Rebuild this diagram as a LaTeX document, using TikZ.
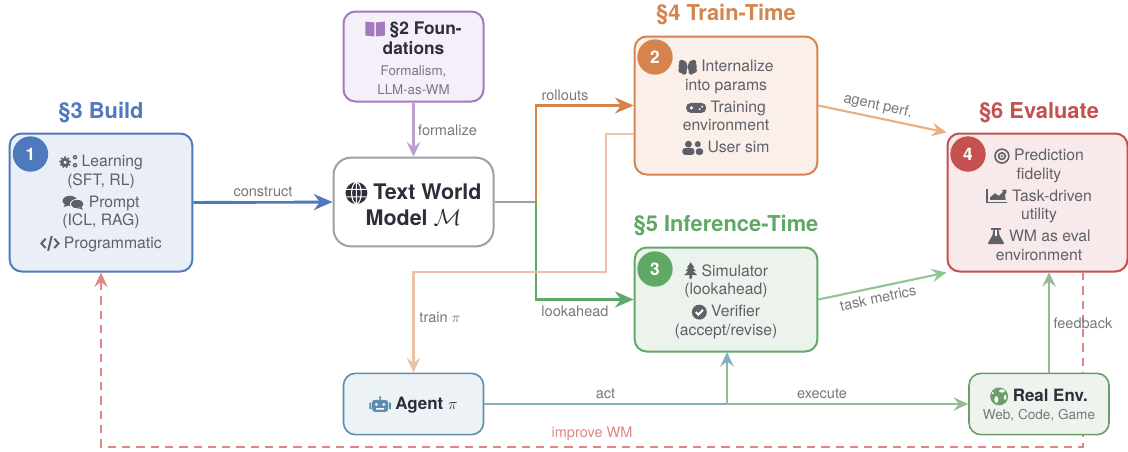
\documentclass[tikz,border=0pt]{standalone}
\usepackage{amsmath}
\usepackage{fontspec}
\setmainfont{TeX Gyre Heros}
\usetikzlibrary{arrows.meta,positioning}
\definecolor{buildc}{HTML}{4E79BC}
\definecolor{buildf}{HTML}{E9EEF7}
\definecolor{trainc}{HTML}{D4844C}
\definecolor{trainf}{HTML}{FAEFE9}
\definecolor{trainl}{HTML}{E8AE80}
\definecolor{trainp}{HTML}{EBC1A8}
\definecolor{inferc}{HTML}{5FA865}
\definecolor{inferf}{HTML}{ECF3EC}
\definecolor{inferl}{HTML}{8FC794}
\definecolor{evalc}{HTML}{C45050}
\definecolor{evalf}{HTML}{F8EAEA}
\definecolor{evall}{HTML}{DE8785}
\definecolor{foundc}{HTML}{A678BE}
\definecolor{foundf}{HTML}{F4EFF8}
\definecolor{foundl}{HTML}{BD9FD0}
\definecolor{agentc}{HTML}{5B8FAD}
\definecolor{agentf}{HTML}{ECF2F5}
\definecolor{agentl}{HTML}{85AFC3}
\definecolor{realc}{HTML}{6B9E6B}
\definecolor{realf}{HTML}{EEF3EE}
\definecolor{reall}{HTML}{93BC96}
\definecolor{modelc}{HTML}{9E9EA3}
\definecolor{bodyc}{HTML}{5F6068}
\definecolor{darkc}{HTML}{2E2E3A}
\definecolor{labelc}{HTML}{77777D}
\tikzset{
	box/.style={draw, rounded corners=9pt, line width=1.5pt, align=center, inner sep=0pt, text=bodyc,
		font=\fontsize{11.8}{13.7}\selectfont},
	boxtext/.style={box, draw=none, fill=none},
	badge/.style={circle, inner sep=0pt, minimum size=26.5pt, text=white, font=\fontsize{13}{13}\selectfont\bfseries},
	title/.style={font=\fontsize{16.4}{18}\selectfont\bfseries},
	tag/.style={font=\fontsize{10.9}{12}\selectfont, text=labelc, inner sep=0pt},
	link/.style={line width=2.2pt, -{Stealth[length=14pt, width=12pt, inset=4.5pt]}},
	thin link/.style={line width=1.6pt, -{Stealth[length=11pt, width=10pt, inset=4pt]}},
	plain link/.style={line width=1.7pt},
	icon/.style={x=1pt, y=1pt, baseline=1pt, sharp corners, line width=1.2pt},
	ic/.style={fill=., draw=none},
	ir/.style={draw=., fill=none},
	ig/.style={fill=white, draw=none}
}
\newcommand{\ico}[1]{\smash{\tikz[icon]{#1}}}
\newcommand{\icogears}{\ico{\path[ic] (4.5,4.5) circle (3.4) (12,8.3) circle (1.7) (12,2.3) circle (1.7);
	\draw[ir, dash pattern=on 1.3pt off 1.35pt] (4.5,4.5) circle (3.9);
	\path[ig] (4.5,4.5) circle (1.3) (12,8.3) circle (.6) (12,2.3) circle (.6);}}
\newcommand{\icobubbles}{\ico{\path[ic] (5.5,6) ellipse (5.5 and 3.8) (2,3.5) -- (.8,1.4) -- (5,2.6) -- cycle;
	\draw[white, line width=.8pt] (11,3.6) ellipse (5 and 3.4);
	\path[ic] (11,3.6) ellipse (4.8 and 3.2) (14,1.4) -- (15.4,-.6) -- (11,.6) -- cycle;}}
\newcommand{\icocode}{\ico{\draw[ir, line width=1.5pt] (4,8) -- (.8,4.5) -- (4,1) (10.5,8) -- (13.7,4.5) -- (10.5,1);
	\draw[ir, line width=1.5pt] (8.6,10) -- (5.9,-1);}}
\newcommand{\icobrain}{\ico{\path[ic] (3.2,4.6) ellipse (3.3 and 5) (2.2,8) circle (2) (1.6,2) circle (1.9) (4,.8) circle (2) (10.2,4.6) ellipse (3.3 and 5) (11.2,8) circle (2) (11.8,2) circle (1.9) (9.4,.8) circle (2);}}
\newcommand{\icopad}{\ico{\path[ic, rounded corners=3.4pt] (0,.6) rectangle (15,8);
	\path[ig] (4,4.3) circle (1.3) (10.2,3.4) circle (.8) (12,5.2) circle (.8);}}
\newcommand{\icousers}{\ico{\path[ic] (4.5,7.5) circle (2.6) (11.5,7.5) circle (2.3);
	\path[ic, rounded corners=2pt] (0,-.5) rectangle (9,4.6) (10,-.5) rectangle (15.5,4.3);}}
\newcommand{\icotree}{\ico{\path[ic] (5,11.5) -- (2.2,7.5) -- (7.8,7.5) -- cycle (5,9) -- (1,4.8) -- (9,4.8) -- cycle
	(5,6.5) -- (0,1.8) -- (10,1.8) -- cycle (4,-.8) rectangle (6,2);}}
\newcommand{\icocheck}{\ico{\path[ic] (5.5,4.5) circle (5.6);
	\draw[white, line width=1.5pt] (2.9,4.6) -- (4.8,2.6) -- (8.2,6.2);}}
\newcommand{\icotarget}{\ico{\draw[ir] (5.5,4.5) circle (5.2) (5.5,4.5) circle (2.5);
	\path[ic] (5.5,4.5) circle (.9);}}
\newcommand{\icochart}{\ico{\draw[ir] (0,10) -- (0,.1) -- (15,.1);
	\path[ic] (2.4,2) -- (2.4,4) -- (6,7) -- (9,5) -- (12.2,8.4) -- (11,9.4) -- (14.6,9.8) -- (14.6,6.2) -- (13.4,7.2) -- (14,2) -- cycle;}}
\newcommand{\icoflask}{\ico{\path[ic, rounded corners=1pt] (4.2,10) -- (4.2,6.5) -- (0,-.8) -- (13,-.8) -- (8.8,6.5) -- (8.8,10) -- cycle;
	\draw[ir] (2.8,10.6) -- (10.2,10.6);
	\path[ig] (5.5,10) rectangle (7.5,5.5);}}
\newcommand{\icobook}{\ico{\path[ic] (0,0) -- (0,10.5) -- (6.8,9.8) -- (6.8,-.7) -- cycle (7.9,-.7) -- (7.9,9.8) -- (14.7,10.5) -- (14.7,0) -- cycle;}}
\newcommand{\icoglobe}{\ico{\path[ic] (8,6) circle (8.2);
	\draw[white, line width=.8pt] (8,6) ellipse (3.6 and 8) (.3,3.2) -- (15.7,3.2) (.3,8.8) -- (15.7,8.8) (8,-2) -- (8,14);}}
\newcommand{\icoearth}{\ico{\path[ic] (6.5,4.5) circle (6.7);
	\path[ig] (8.6,8.6) ellipse (2.2 and 1.2) (11,3.8) ellipse (1 and 1.8) (4.4,2.2) ellipse (1.5 and 2.5) (1.8,7) circle (.9);}}
\newcommand{\icorobot}{\ico{\path[ic, rounded corners=2pt] (2,-.5) rectangle (14,8.5);
	\path[ic] (0,1.5) rectangle (1.4,6.5) (14.6,1.5) rectangle (16,6.5) (7.5,8) rectangle (8.5,10) (8,10.4) circle (1);
	\path[ig] (5.2,5) circle (1.2) (10.8,5) circle (1.2) (5,1.2) rectangle (11,2.2);}}
\begin{document}
\begin{tikzpicture}[x=0.75pt, y=-0.75pt]
	\useasboundingbox (0,0) rectangle (1128,451);
	\begin{scope}
		\node[box, draw=buildc, fill=buildf, minimum width=137pt, minimum height=103.5pt] (build) at (101,202.5) {};
		\node[box, draw=foundc, fill=foundf, minimum width=105pt, minimum height=67.5pt] (found) at (413.5,56.5) {};
		\node[box, draw=modelc, fill=white, minimum width=120pt, minimum height=66.5pt, rounded corners=13pt] (model) at (413.5,202) {};
		\node[box, draw=trainc, fill=trainf, minimum width=137pt, minimum height=103.5pt] (train) at (726,105.5) {};
		\node[box, draw=inferc, fill=inferf, minimum width=137pt, minimum height=78pt] (infer) at (726,299.5) {};
		\node[box, draw=evalc, fill=evalf, minimum width=135pt, minimum height=103.5pt] (eval) at (1037.5,202.5) {};
		\node[box, draw=agentc, fill=agentf, minimum width=105pt, minimum height=46pt, line width=1.2pt] (agent) at (413.5,404) {};
	\end{scope}
	\coordinate (split) at (536,202);
	\coordinate (trainout) at (634,134);
	\coordinate (trainbend) at (606,134);
	\coordinate (trainlow) at (606,272);
	\coordinate (agentin) at (413.5,272);
	\coordinate (fork) at (727,404);
	\coordinate (inferin) at (727,352);
	\coordinate (feedin) at (1049,272);
	\coordinate (feedout) at (1049,373);
	\coordinate (loopa) at (1083,272);
	\coordinate (loopb) at (1083,446.5);
	\coordinate (loopc) at (101,446.5);
	\draw[thin link, evall, line width=1.5pt, dash pattern=on 6.2pt off 4.5pt] (loopa) -- (loopb) -- (loopc) -- (build.south);
	\node[box, draw=realc, fill=realf, minimum width=105pt, minimum height=46pt, line width=1.2pt] (real) at (1039,404) {};
	\draw[link, buildc] (build.east) -- (model.west);
	\draw[thin link, foundl] (found.south) -- (model.north);
	\draw[line width=2.2pt, modelc] (model.east) -- (split);
	\draw[link, trainc] (split) |- (train.west);
	\draw[link, inferc] (split) |- (infer.west);
	\draw[thin link, trainp] (trainout) -- (trainbend) -- (trainlow) -- (agentin) -- (agent.north);
	\draw[thin link, trainl] (train.east) -- (eval.north west);
	\draw[thin link, inferl] (infer.east) -- (eval.south west);
	\draw[thin link, agentl] (agent.east) -- (fork) -- (inferin);
	\draw[plain link, reall, shorten >=9pt] (fork) -- (inferin);
	\draw[thin link, reall] (fork) -- (real.west);
	\draw[thin link, reall, line width=1.8pt] (feedout) -- (feedin);
	\begin{scope}[every node/.style={badge}]
		\node[fill=buildc] (one) at (30.5,154) {1};
		\node[fill=trainc] (two) at (655,57) {2};
		\node[fill=inferc] (three) at (655,269) {3};
		\node[fill=evalc] (four) at (968,154) {4};
	\end{scope}
	\node[title, text=buildc] (tbuild) at (101,113) {§3 Build};
	\node[title, text=trainc] (ttrain) at (726,14.5) {§4 Train-Time};
	\node[title, text=inferc] (tinfer) at (726,226) {§5 Inference-Time};
	\node[title, text=evalc] (teval) at (1039,113) {§6 Evaluate};
	\node[boxtext] (buildtxt) at (101,203.5) {\icogears\ Learning\\(SFT, RL)\\[3pt]\icobubbles\ Prompt\\(ICL, RAG)\\[3pt]\icocode\ Programmatic};
	\node[boxtext] (traintxt) at (726,106.7) {\icobrain\ Internalize\\into params\\[3pt]\icopad\ Training\\environment\\[3pt]\icousers\ User sim};
	\node[boxtext] (infertxt) at (726,301.5) {\icotree\ Simulator\\(lookahead)\\[3pt]\icocheck\ Verifier\\(accept/revise)};
	\node[boxtext] (evaltxt) at (1039,204.8) {\icotarget\ Prediction\\fidelity\\[3pt]\icochart\ Task-driven\\utility\\[3pt]\icoflask\ WM as eval\\environment};
	\node[boxtext, text=darkc, font=\fontsize{13}{15}\selectfont\bfseries] (foundtxt) at (413.5,38) {{\color{foundc}\icobook}\ §2 Foun-\\dations};
	\node[boxtext, text=labelc, font=\fontsize{10}{14}\selectfont] (foundsub) at (413.5,80) {Formalism,\\LLM-as-WM};
	\node[boxtext, text=darkc, font=\fontsize{16.1}{19.5}\selectfont\bfseries] (modeltxt) at (413.5,205) {\icoglobe\ Text World\\Model $\mathcal{M}$};
	\node[boxtext, text=darkc, font=\fontsize{12.7}{14}\selectfont\bfseries] (agenttxt) at (413.5,405.5) {{\color{agentc}\icorobot}\ Agent\ $\pi$};
	\node[boxtext, text=darkc, font=\fontsize{12.7}{14}\selectfont\bfseries] (realtxt) at (1039,395) {{\color{realc}\icoearth}\ Real Env.};
	\node[boxtext, text=labelc, font=\fontsize{10.2}{12}\selectfont] (realsub) at (1039,415.5) {Web, Code, Game};
	\begin{scope}[every node/.style={tag}]
		\node[fill=white, inner xsep=1pt, inner ysep=3pt] (lconstruct) at (263,192) {construct};
		\node (lformalize) at (447.5,130) {formalize};
		\node (lrollouts) at (565,95) {rollouts};
		\node (llookahead) at (575,311) {lookahead};
		\node (ltrain) at (440,317) {train $\pi$};
		\node (lact) at (605.5,394) {act};
		\node (lexecute) at (822,394) {execute};
		\node (lfeedback) at (1083,323) {feedback};
		\node[rotate=-12.5] (lperf) at (878,106) {agent perf.};
		\node[rotate=12] (lmetrics) at (878,298) {task metrics};
		\node[text=evall] (limprove) at (592,433.5) {improve WM};
	\end{scope}
\end{tikzpicture}
\end{document}
